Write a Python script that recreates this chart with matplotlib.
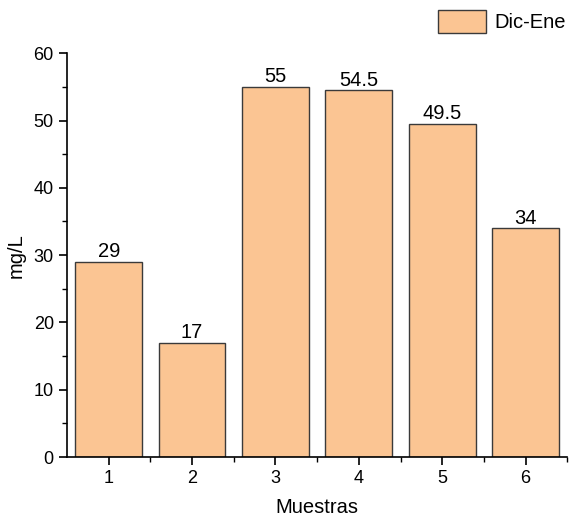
import matplotlib.pyplot as plt
from matplotlib.ticker import MultipleLocator
from matplotlib.patches import Patch

plt.rcParams['font.family'] = ['Liberation Sans', 'DejaVu Sans']

muestras = [1, 2, 3, 4, 5, 6]
valores = [29, 17, 55, 54.5, 49.5, 34]
etiquetas = ["29", "17", "55", "54.5", "49.5", "34"]
serie = "Dic-Ene"

color_barra = "#FBC593"
color_borde = "#3a3a3a"

fig = plt.figure(figsize=(5.73, 5.17), dpi=100)
ax = fig.add_axes([0.117, 0.116, 0.873, 0.781])

bars = ax.bar(muestras, valores, width=0.8, color=color_barra,
              edgecolor=color_borde, linewidth=1.0)
for b, t in zip(bars, etiquetas):
    ax.text(b.get_x() + b.get_width() / 2, b.get_height() + 0.1, t,
            ha="center", va="bottom", fontsize=14.5)

ax.set_xlim(0.5, 6.5)
ax.set_ylim(0, 60)
ax.set_xticks(muestras)
ax.yaxis.set_major_locator(MultipleLocator(10))
ax.yaxis.set_minor_locator(MultipleLocator(5))
ax.tick_params(which="major", direction="out", length=6, width=1.2, labelsize=13)
ax.tick_params(which="minor", direction="out", length=3.5, width=1.0)
# minor x ticks only between bars
ax.set_xticks([1.5, 2.5, 3.5, 4.5, 5.5, 6.5], minor=True)

for s in ["top", "right"]:
    ax.spines[s].set_visible(False)
for s in ["left", "bottom"]:
    ax.spines[s].set_linewidth(1.2)

ax.set_xlabel("Muestras", fontsize=14.5, labelpad=8)
ax.set_ylabel("mg/L", fontsize=14.5, labelpad=6)

handle = Patch(facecolor=color_barra, edgecolor=color_borde, linewidth=1.0)
fig.legend([handle], [serie], loc="upper right", bbox_to_anchor=(1.012, 1.008),
           frameon=False, fontsize=14.5, handlelength=2.4, handleheight=1.4,
           handletextpad=0.4, borderaxespad=0.3)

fig.savefig("out.png", dpi=100)
